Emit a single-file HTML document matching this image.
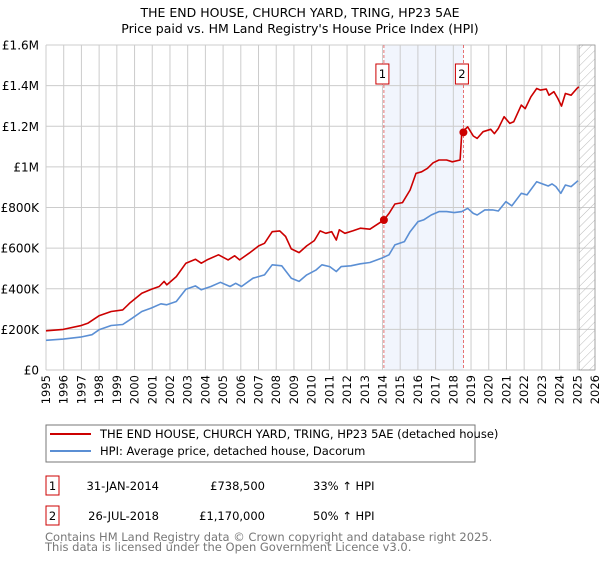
<!DOCTYPE html>
<html><head><meta charset="utf-8"><style>
body{margin:0;background:#fff;font-family:"Liberation Sans","DejaVu Sans",sans-serif;}
svg text{font-family:"DejaVu Sans","Liberation Sans",sans-serif;}
</style></head><body>
<svg id="c" width="600" height="560" xmlns="http://www.w3.org/2000/svg">
<text x="300" y="17" text-anchor="middle" font-size="12.5">THE END HOUSE, CHURCH YARD, TRING, HP23 5AE</text>
<text x="300" y="33" text-anchor="middle" font-size="12.5">Price paid vs. HM Land Registry's House Price Index (HPI)</text>
<g id="plot"></g>
<rect x="46" y="425" width="429" height="37" fill="none" stroke="#777"/>
<line x1="50" y1="434" x2="91" y2="434" stroke="#cc0000" stroke-width="2"/>
<text x="100" y="438" font-size="11.5">THE END HOUSE, CHURCH YARD, TRING, HP23 5AE (detached house)</text>
<line x1="50" y1="451" x2="91" y2="451" stroke="#5b8fd4" stroke-width="2"/>
<text x="100" y="455" font-size="11.5">HPI: Average price, detached house, Dacorum</text>
<g font-size="11.5">
<rect x="46" y="476" width="13" height="19" fill="none" stroke="#cc0000"/>
<text x="52.5" y="490" text-anchor="middle">1</text>
<text x="159" y="490" text-anchor="end">31-JAN-2014</text>
<text x="265" y="490" text-anchor="end">£738,500</text>
<text x="313" y="490">33% ↑ HPI</text>
<rect x="46" y="506" width="13" height="19" fill="none" stroke="#cc0000"/>
<text x="52.5" y="520" text-anchor="middle">2</text>
<text x="159" y="520" text-anchor="end">26-JUL-2018</text>
<text x="265" y="520" text-anchor="end">£1,170,000</text>
<text x="313" y="520">50% ↑ HPI</text>
</g>
<text x="45" y="541" font-size="11.5" fill="#777">Contains HM Land Registry data © Crown copyright and database right 2025.</text>
<text x="45" y="551" font-size="11.5" fill="#777">This data is licensed under the Open Government Licence v3.0.</text>
</svg>
<script>
const yTicks=[0,200,400,600,800,1000,1200,1400,1600];
const yTickLabels=["£0","£200K","£400K","£600K","£800K","£1M","£1.2M","£1.4M","£1.6M"];
const xYears=[1995,1996,1997,1998,1999,2000,2001,2002,2003,2004,2005,2006,2007,2008,2009,2010,2011,2012,2013,2014,2015,2016,2017,2018,2019,2020,2021,2022,2023,2024,2025,2026];
const saleYears=[2014.08,2018.57];
const saleValues=[738.5,1170];
const saleLabels=["1","2"];
const priceOffsets=[0,0.97,1.95,2.38,2.99,3.68,4.33,4.76,5.41,5.95,6.39,6.67,6.82,7.36,7.90,8.44,8.77,9.09,9.74,10.28,10.65,10.93,11.47,12.01,12.34,12.77,13.20,13.53,13.85,14.29,14.72,15.15,15.48,15.80,16.13,16.39,16.56,16.88,17.32,17.75,18.29,19.08,19.37,19.70,20.13,20.56,20.89,21.21,21.54,21.86,22.19,22.62,22.94,23.38,23.48,23.81,24.13,24.35,24.68,25.11,25.32,25.54,25.87,26.19,26.41,26.84,27.06,27.38,27.71,27.92,28.25,28.40,28.68,28.90,29.11,29.33,29.65,29.98,30.09];
const priceValues=[193,200,218,231,267,288,296,332,378,398,411,436,419,460,526,545,526,542,567,542,562,542,575,611,624,681,685,657,596,578,611,637,685,673,681,640,690,673,685,698,693,738.5,771,817,824,886,968,976,993,1020,1034,1034,1025,1034,1170,1197,1152,1140,1173,1185,1164,1189,1247,1214,1222,1304,1287,1345,1386,1378,1383,1353,1370,1337,1299,1361,1353,1386,1394];
const hpiOffsets=[0,0.97,1.95,2.6,2.99,3.68,4.33,4.87,5.41,5.95,6.49,6.82,7.36,7.90,8.44,8.77,9.31,9.85,10.39,10.71,11.04,11.69,12.34,12.77,13.31,13.85,14.29,14.72,15.26,15.58,16.02,16.39,16.67,17.21,17.75,18.29,18.94,19.37,19.70,20.24,20.56,21.0,21.32,21.75,22.19,22.62,23.05,23.48,23.81,24.13,24.35,24.78,25.22,25.54,25.97,26.30,26.84,27.16,27.71,28.03,28.36,28.57,28.79,29.07,29.33,29.65,30.04];
const hpiValues=[146,152,162,174,198,219,224,255,288,305,326,321,337,398,414,395,411,432,411,427,411,452,468,518,513,452,436,468,493,518,509,485,509,513,523,529,550,567,616,632,681,730,739,763,780,780,775,780,796,771,763,788,788,783,829,808,870,862,927,916,906,916,903,870,911,903,932];
const L=46,R=595,T=45,B=370,Y0=1995,Y1=2026,VMAX=1600,HATCH=2025.1;
const xs=y=>L+(y-Y0)/(Y1-Y0)*(R-L);
const ys=v=>B-v/VMAX*(B-T);
const NS="http://www.w3.org/2000/svg";
const g=document.getElementById('plot');
function mk(tag,attrs,parent){const e=document.createElementNS(NS,tag);for(const k in attrs)e.setAttribute(k,attrs[k]);(parent||g).appendChild(e);return e;}
// shaded region
let sh=mk('rect',{x:xs(saleYears[0]),y:T,width:xs(saleYears[1])-xs(saleYears[0]),height:B-T,fill:'#eef3fc',opacity:0.8});


// hatch
const defs=mk('defs',{});
const pat=mk('pattern',{id:'h',width:6,height:6,patternUnits:'userSpaceOnUse',patternTransform:'rotate(45)'},defs);
mk('line',{x1:0,y1:0,x2:0,y2:6,stroke:'#bbb','stroke-width':1},pat);
// grid
xYears.forEach((y,i)=>{
  const l=mk('line',{x1:xs(y),y1:T,x2:xs(y),y2:B,stroke:'#ccc','stroke-width':1});
  
  
  const t=mk('text',{x:0,y:0,'font-size':11.5,'text-anchor':'end',transform:`translate(${xs(y)+4},${B+5}) rotate(-90)`});
  t.textContent=y;
  
  
});
yTicks.forEach((v,i)=>{
  const l=mk('line',{x1:L,y1:ys(v),x2:R,y2:ys(v),stroke:'#ccc','stroke-width':1});
  
  
  const t=mk('text',{x:39,y:ys(v)+4.5,'font-size':12,'text-anchor':'end'});
  t.textContent=yTickLabels[i];
  
  
});
let hr=mk('rect',{x:xs(HATCH),y:T,width:R-xs(HATCH),height:B-T,fill:'url(#h)',stroke:'#999','stroke-width':0.8});


// sale lines
saleYears.forEach((y,i)=>{
  const l=mk('line',{x1:xs(y),y1:T,x2:xs(y),y2:B,stroke:'#e05050','stroke-width':0.8,'stroke-dasharray':'3,2'});
  
  
  const r=mk('rect',{x:xs(y)-8,y:64,width:13,height:20,fill:'#fff',stroke:'#cc0000','stroke-width':1});
  
  
  const t=mk('text',{x:xs(y)-1.5,y:78,'font-size':11.5,'text-anchor':'middle'});
  t.textContent=saleLabels[i];
  
  
});
function path(off,vals,color,name){
  const d=off.map((o,i)=>(i?'L':'M')+xs(Y0+o).toFixed(1)+','+ys(vals[i]).toFixed(1)).join('');
  const p=mk('path',{d:d,fill:'none',stroke:color,'stroke-width':1.6,'stroke-linejoin':'round'});
  
  
}
path(hpiOffsets,hpiValues,'#5b8fd4','hpi-line');
path(priceOffsets,priceValues,'#cc0000','price-line');
saleYears.forEach((y,i)=>{
  const c=mk('circle',{cx:xs(y),cy:ys(saleValues[i]),r:4,fill:'#cc0000'});
  
  
});
</script>
</body></html>
